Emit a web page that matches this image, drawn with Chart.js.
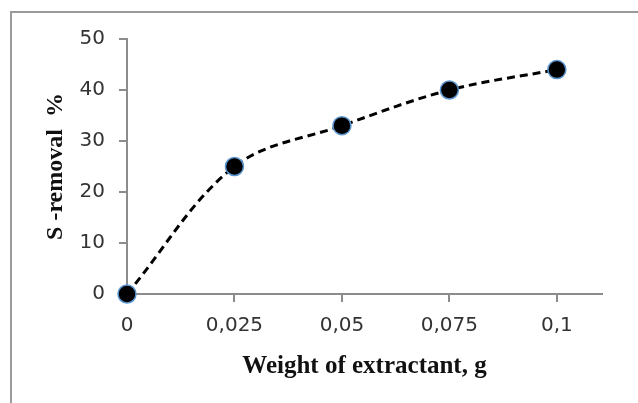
<!DOCTYPE html>
<html>
<head>
<meta charset="utf-8">
<script src="https://cdn.jsdelivr.net/npm/chart.js@4/dist/chart.umd.min.js"></script>
<style>
  html, body { margin: 0; padding: 0; background: #fff; overflow: hidden; }
  #wrap { position: relative; width: 638px; height: 403px; }
  #frame { position: absolute; left: 10px; top: 11px; width: 700px; height: 500px;
           border-top: 2px solid #9a9a9a; border-left: 2px solid #9a9a9a; pointer-events: none; }
</style>
</head>
<body>
<div id="wrap">
  <canvas id="chart" width="638" height="403"></canvas>
  <div id="frame"></div>
</div>
<script>
// data
const weights = [0, 0.025, 0.05, 0.075, 0.1];
const removal = [0, 25, 33, 40, 44];
const xTickValues = [0, 0.025, 0.05, 0.075, 0.1];
const xTickLabels = ['0', '0,025', '0,05', '0,075', '0,1'];
const yTickValues = [0, 10, 20, 30, 40, 50];

const axisGray = '#8c8c8c';
const labelGray = '#333333';

// chart render
new Chart(document.getElementById('chart'), {
    type: 'line',
    data: {
        datasets: [
            {
                data: weights.map((w, i) => ({x: w, y: removal[i]})),
                borderColor: '#000',
                borderWidth: 3,
                borderDash: [8, 5],
                tension: 0.35,
                pointRadius: 9,
                pointHoverRadius: 9,
                pointBackgroundColor: '#000',
                pointBorderColor: '#5b95d0',
                pointBorderWidth: 1.5,
                clip: false,
            },
        ],
    },
    options: {
        responsive: false,
        animation: false,
        layout: {padding: {left: 0, top: 39, right: 36, bottom: 0}},
        plugins: {legend: {display: false}, tooltip: {enabled: false}},
        scales: {
            x: {
                type: 'linear',
                min: 0,
                max: 0.1105,
                afterBuildTicks: s => { s.ticks = xTickValues.map(v => ({value: v})); },
                afterFit: s => { s.height = 109; },
                border: {color: axisGray, width: 2},
                grid: {drawOnChartArea: false, tickLength: 8, color: axisGray, lineWidth: 2},
                ticks: {
                    padding: 12,
                    color: labelGray,
                    font: {family: 'DejaVu Sans', size: 20},
                    callback: (v, i) => xTickLabels[i],
                },
                title: {
                    display: true,
                    text: 'Weight of extractant, g',
                    color: '#111',
                    font: {family: 'Liberation Serif', size: 25, weight: 'bold'},
                    padding: {top: 0, bottom: 21},
                },
            },
            y: {
                min: 0,
                max: 50,
                afterBuildTicks: s => { s.ticks = yTickValues.map(v => ({value: v})); },
                afterFit: s => { s.width = 127; },
                border: {color: axisGray, width: 2},
                grid: {drawOnChartArea: false, tickLength: 8, color: axisGray, lineWidth: 2},
                ticks: {
                    padding: 14,
                    color: labelGray,
                    font: {family: 'DejaVu Sans', size: 20},
                },
                title: {
                    display: true,
                    text: 'S -removal  %',
                    color: '#111',
                    font: {family: 'Liberation Serif', size: 24, weight: 'bold'},
                    padding: {top: 41, bottom: 0},
                },
            },
        },
    },
});
</script>
</body>
</html>
